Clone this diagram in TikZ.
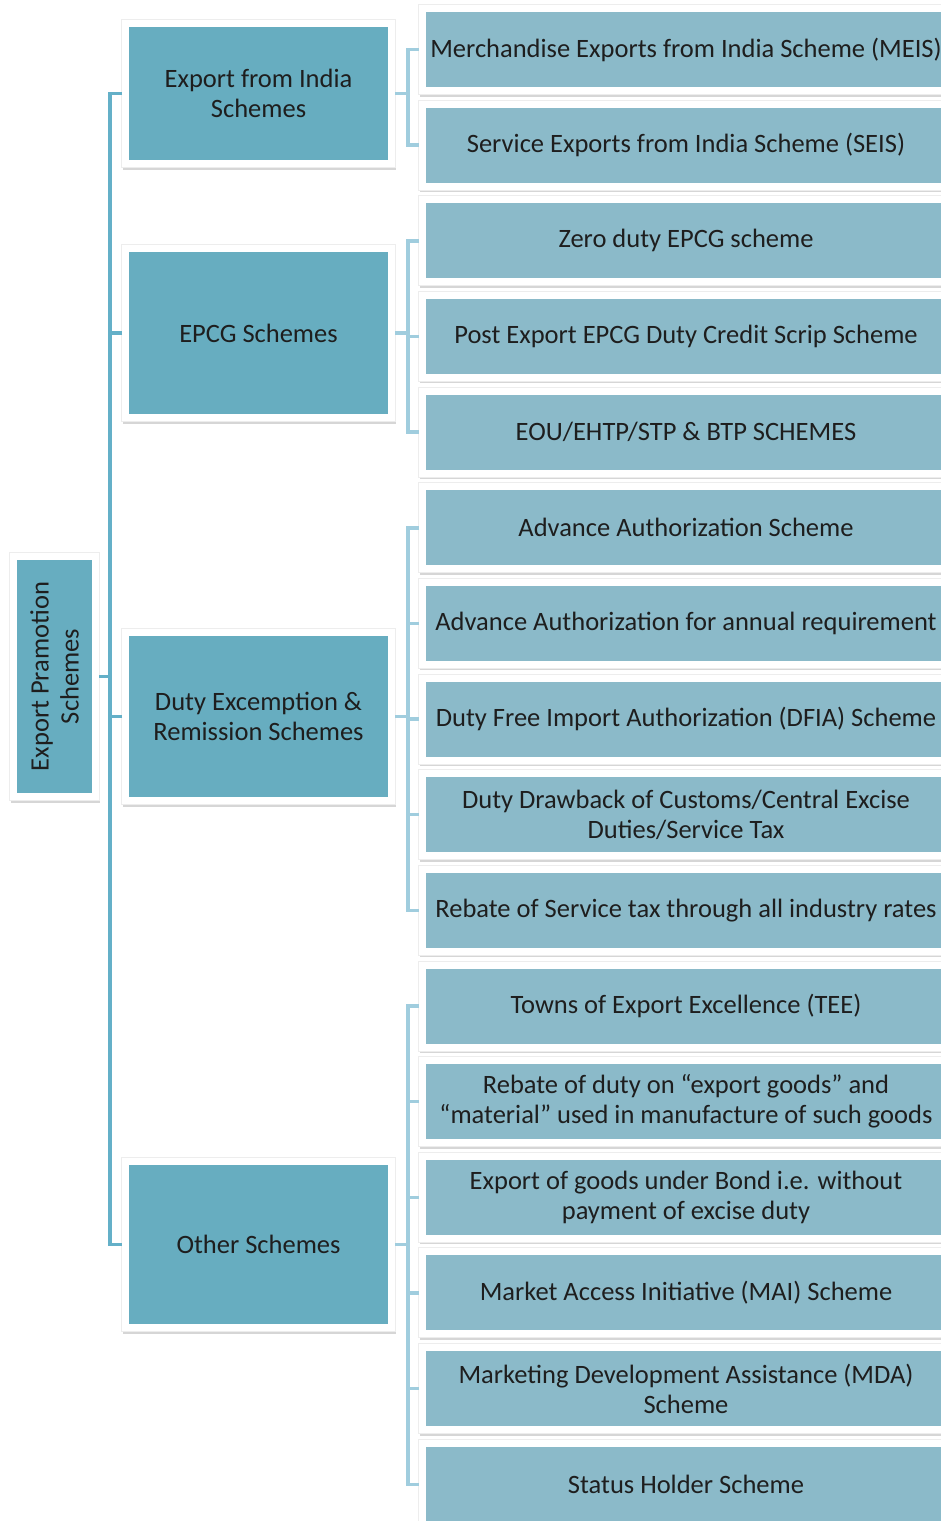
\documentclass[tikz,border=0pt]{standalone}
\usepackage{fontspec}
\setmainfont{Carlito}
\definecolor{cone}{RGB}{103,173,192}
\definecolor{ctwo}{RGB}{139,186,201}
\definecolor{lone}{RGB}{100,176,200}
\definecolor{ltwo}{RGB}{160,205,222}
\definecolor{txt}{RGB}{30,30,30}
\begin{document}
\begin{tikzpicture}[x=1pt,y=-1pt,
  boxbase/.style={rectangle, draw=white, line width=7pt, align=center, inner sep=0pt,
    font=\fontsize{26.5}{30}\selectfont, text=txt,
    preaction={draw=black!16, fill=black!16, line width=7pt, transform canvas={shift={(1pt,-2.5pt)}}},
    preaction={draw=black!7, line width=9pt}},
  rootbox/.style={boxbase, fill=cone, minimum width=240pt, minimum height=82pt, rotate=90},
  lvlone/.style={boxbase, fill=cone, minimum width=266pt},
  lvltwo/.style={boxbase, fill=ctwo, minimum width=527pt, minimum height=82pt},
  rootline/.style={draw=lone, line width=3.5pt},
  subline/.style={draw=ltwo, line width=3.5pt}]
\useasboundingbox (0,0) rectangle (940,1521);
\fill[white] (0,0) rectangle (940,1521);
\coordinate (rx) at (110,0);
\coordinate (bx) at (408,0);
% nodes
\node[rootbox] (root) at (54.5,676.5) {Export Pramotion\\Schemes};
\node[lvlone, minimum height=140pt] (a1) at (258.5,93.5) {Export from India\\Schemes};
\node[lvlone, minimum height=169pt] (a2) at (258.5,333) {EPCG Schemes};
\node[lvlone, minimum height=168pt] (a3) at (258.5,716.5) {Duty Excemption \&\\Remission Schemes};
\node[lvlone, minimum height=166pt] (a4) at (258.5,1244.5) {Other Schemes};
\node[lvltwo] (b1) at (686,49.5) {Merchandise Exports from India Scheme (MEIS)};
\node[lvltwo] (b2) at (686,145.15) {Service Exports from India Scheme (SEIS)};
\node[lvltwo] (b3) at (686,240.8) {Zero duty EPCG scheme};
\node[lvltwo] (b4) at (686,336.45) {Post Export EPCG Duty Credit Scrip Scheme};
\node[lvltwo] (b5) at (686,432.1) {EOU/EHTP/STP \& BTP SCHEMES};
\node[lvltwo] (b6) at (686,527.75) {Advance Authorization Scheme};
\node[lvltwo] (b7) at (686,623.4) {Advance Authorization for annual requirement};
\node[lvltwo] (b8) at (686,719.05) {Duty Free Import Authorization (DFIA) Scheme};
\node[lvltwo] (b9) at (686,814.7) {Duty Drawback of Customs/Central Excise\\Duties/Service Tax};
\node[lvltwo] (b10) at (686,910.35) {Rebate of Service tax through all industry rates};
\node[lvltwo] (b11) at (686,1006) {Towns of Export Excellence (TEE)};
\node[lvltwo] (b12) at (686,1101.65) {Rebate of duty on “export goods” and\\“material” used in manufacture of such goods};
\node[lvltwo] (b13) at (686,1197.3) {Export of goods under Bond i.e. without\\payment of excise duty};
\node[lvltwo] (b14) at (686,1292.95) {Market Access Initiative (MAI) Scheme};
\node[lvltwo] (b15) at (686,1388.6) {Marketing Development Assistance (MDA)\\Scheme};
\node[lvltwo] (b16) at (686,1484.25) {Status Holder Scheme};
% root connectors
\draw[rootline] (root.south) -- (root.south -| rx);
\draw[rootline] (a1.west) -- (a1.west -| rx) -- (a4.west -| rx) -- (a4.west);
\draw[rootline] (a2.west) -- (a2.west -| rx);
\draw[rootline] (a3.west) -- (a3.west -| rx);
% group connectors
\draw[subline] (a1.east) -- (a1.east -| bx);
\draw[subline] (b1.west) -- (b1.west -| bx) -- (b2.west -| bx) -- (b2.west);
\draw[subline] (a2.east) -- (a2.east -| bx);
\draw[subline] (b3.west) -- (b3.west -| bx) -- (b5.west -| bx) -- (b5.west);
\draw[subline] (b4.west) -- (b4.west -| bx);
\draw[subline] (a3.east) -- (a3.east -| bx);
\draw[subline] (b6.west) -- (b6.west -| bx) -- (b10.west -| bx) -- (b10.west);
\foreach \n in {b7,b8,b9} \draw[subline] (\n.west) -- (\n.west -| bx);
\draw[subline] (a4.east) -- (a4.east -| bx);
\draw[subline] (b11.west) -- (b11.west -| bx) -- (b16.west -| bx) -- (b16.west);
\foreach \n in {b12,b13,b14,b15} \draw[subline] (\n.west) -- (\n.west -| bx);
\end{tikzpicture}
\end{document}
